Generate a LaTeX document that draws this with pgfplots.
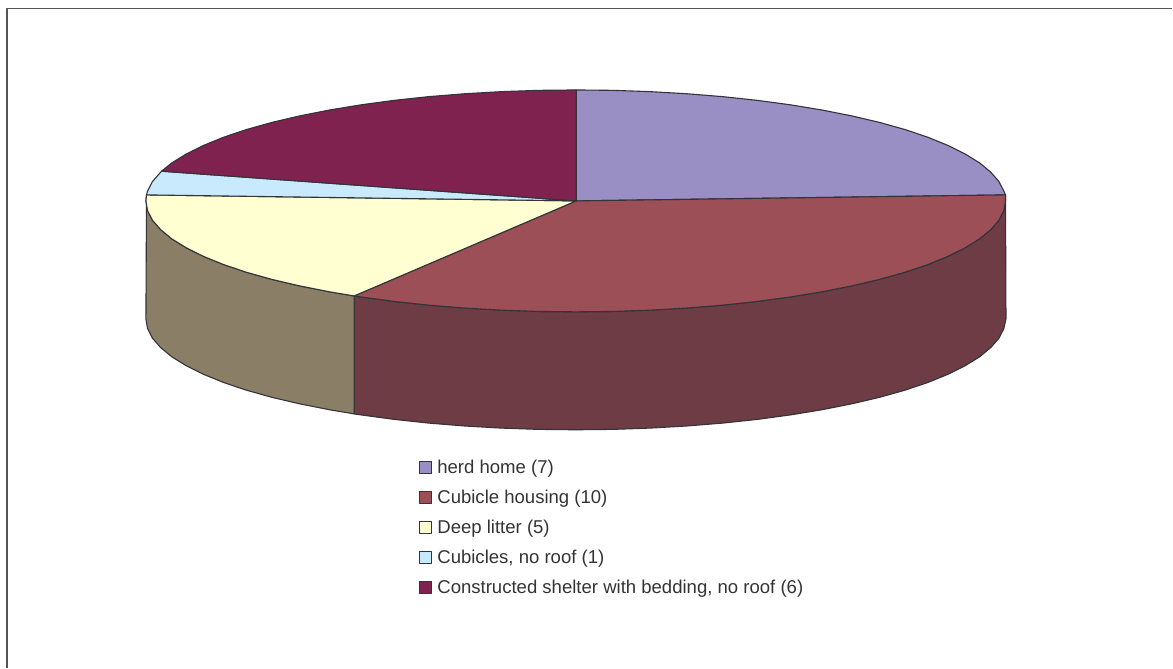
\documentclass[border=0pt]{standalone}
\usepackage{pgfplots}
\pgfplotsset{compat=1.18}
\usepackage{fontspec}
\setmainfont{Liberation Sans}
\definecolor{herdhome}{HTML}{9A8FC4}
\definecolor{cubicle}{HTML}{9C4F57}
\definecolor{cubiclewall}{HTML}{6E3C45}
\definecolor{litter}{HTML}{FFFFD2}
\definecolor{litterwall}{HTML}{8A7F66}
\definecolor{noroof}{HTML}{C8EAFC}
\definecolor{shelter}{HTML}{7F2250}
\definecolor{edge}{HTML}{333338}
\definecolor{frame}{HTML}{555555}
\begin{document}
\begin{tikzpicture}
\begin{axis}[
  scale only axis, width=1173pt, height=668pt,
  xmin=0, xmax=1173, ymin=0, ymax=668, y dir=reverse,
  hide axis, clip=false,
  legend style={at={(axis cs:419.5,458.5)}, anchor=north west, draw=none, fill=none, text=black!80,
    font=\fontsize{18.55}{20}\selectfont, row sep=11pt, inner sep=0pt, outer sep=0pt,
    /tikz/every odd column/.append style={column sep=3pt}},
  legend cell align=left,
  legend image code/.code={\draw[#1, draw=edge, line width=1.1pt] (0pt,-6pt) rectangle (12pt,6pt);},
  every axis plot/.append style={draw=edge, line width=1.1pt, line join=round},
]
% keeps the page as large as the full chart area
\addplot[draw=none, forget plot] coordinates {(0,0) (1173,668)};
% side wall of the cubicle housing slice (drawn first, sits under the top face)
\addplot[fill=cubiclewall, forget plot] coordinates {
 (1006,195) (1006,201) (1004.4,210.7) (999.5,220.3) (991.3,229.7) (980.1,239) (965.7,247.9) (948.4,256.5) (928.3,264.7) (905.4,272.4) (880.1,279.5) (852.4,286) (822.6,291.9) (791,297.1) (757.7,301.6) (723.1,305.3) (687.3,308.2) (650.6,310.3) (613.5,311.6) (576,312) (538.5,311.6) (501.4,310.3) (464.7,308.2) (428.9,305.3) (394.3,301.6) (361,297.1) (354.3,296.1)
 (354.3,414.1) (361,415.1) (394.3,419.6) (428.9,423.3) (464.7,426.2) (501.4,428.3) (538.5,429.6) (576,430) (613.5,429.6) (650.6,428.3) (687.3,426.2) (723.1,423.3) (757.7,419.6) (791,415.1) (822.6,409.9) (852.4,404) (880.1,397.5) (905.4,390.4) (928.3,382.7) (948.4,374.5) (965.7,365.9) (980.1,357) (991.3,347.7) (999.5,338.3) (1004.4,328.7) (1006.5,319) (1006,195)
} -- cycle;
% side wall of the deep litter slice
\addplot[fill=litterwall, forget plot] coordinates {
 (354.3,296.1) (329.4,291.9) (299.6,286) (271.9,279.5) (246.6,272.4) (223.7,264.7) (203.6,256.5) (186.3,247.9) (171.9,239) (160.7,229.7) (152.5,220.3) (147.6,210.7) (146,201) (146.6,195)
 (146,319) (147.6,328.7) (152.5,338.3) (160.7,347.7) (171.9,357) (186.3,365.9) (203.6,374.5) (223.7,382.7) (246.6,390.4) (271.9,397.5) (299.6,404) (329.4,409.9) (354.3,414.1) (354.3,296.1)
} -- cycle;
% top faces: herd home 7, cubicle housing 10, deep litter 5, no roof 1, shelter 6
\addplot[fill=herdhome] coordinates {
 (576.5,201) (576.5,90) (613.5,90.4) (650.6,91.7) (687.3,93.8) (723.1,96.7) (757.7,100.4) (791,104.9) (822.6,110.1) (852.4,116) (880.1,122.5) (905.4,129.6) (928.3,137.3) (948.4,145.5) (965.7,154.1) (980.1,163) (991.3,172.3) (999.5,181.7) (1004.4,191.3) (1006,195) (576.5,201)
} -- cycle;
\addlegendentry{herd home (7)}
\addplot[fill=cubicle] coordinates {
 (576.5,201) (1006,195) (1006,201) (1004.4,210.7) (999.5,220.3) (991.3,229.7) (980.1,239) (965.7,247.9) (948.4,256.5) (928.3,264.7) (905.4,272.4) (880.1,279.5) (852.4,286) (822.6,291.9) (791,297.1) (757.7,301.6) (723.1,305.3) (687.3,308.2) (650.6,310.3) (613.5,311.6) (576,312) (538.5,311.6) (501.4,310.3) (464.7,308.2) (428.9,305.3) (394.3,301.6) (361,297.1) (354.3,296.1) (576.5,201)
} -- cycle;
\addlegendentry{Cubicle housing (10)}
\addplot[fill=litter] coordinates {
 (576.5,201) (354.3,296.1) (329.4,291.9) (299.6,286) (271.9,279.5) (246.6,272.4) (223.7,264.7) (203.6,256.5) (186.3,247.9) (171.9,239) (160.7,229.7) (152.5,220.3) (147.6,210.7) (146,201) (146.6,195) (576.5,201)
} -- cycle;
\addlegendentry{Deep litter (5)}
\addplot[fill=noroof] coordinates {
 (576.5,201) (146.6,195) (147.6,191.3) (152.5,181.7) (160.7,172.3) (161.6,171.3) (576.5,201)
} -- cycle;
\addlegendentry{Cubicles, no roof (1)}
\addplot[fill=shelter] coordinates {
 (576.5,201) (161.6,171.3) (171.9,163) (186.3,154.1) (203.6,145.5) (223.7,137.3) (246.6,129.6) (271.9,122.5) (299.6,116) (329.4,110.1) (361,104.9) (394.3,100.4) (428.9,96.7) (464.7,93.8) (501.4,91.7) (538.5,90.4) (576.5,90) (576.5,201)
} -- cycle;
\addlegendentry{Constructed shelter with bedding, no roof (6)}
% outer frame of the chart area
\addplot[draw=frame, line width=1.2pt, fill=none, forget plot] coordinates {(7,668) (7,8.5) (1173,8.5)};
\end{axis}
\end{tikzpicture}
\end{document}
